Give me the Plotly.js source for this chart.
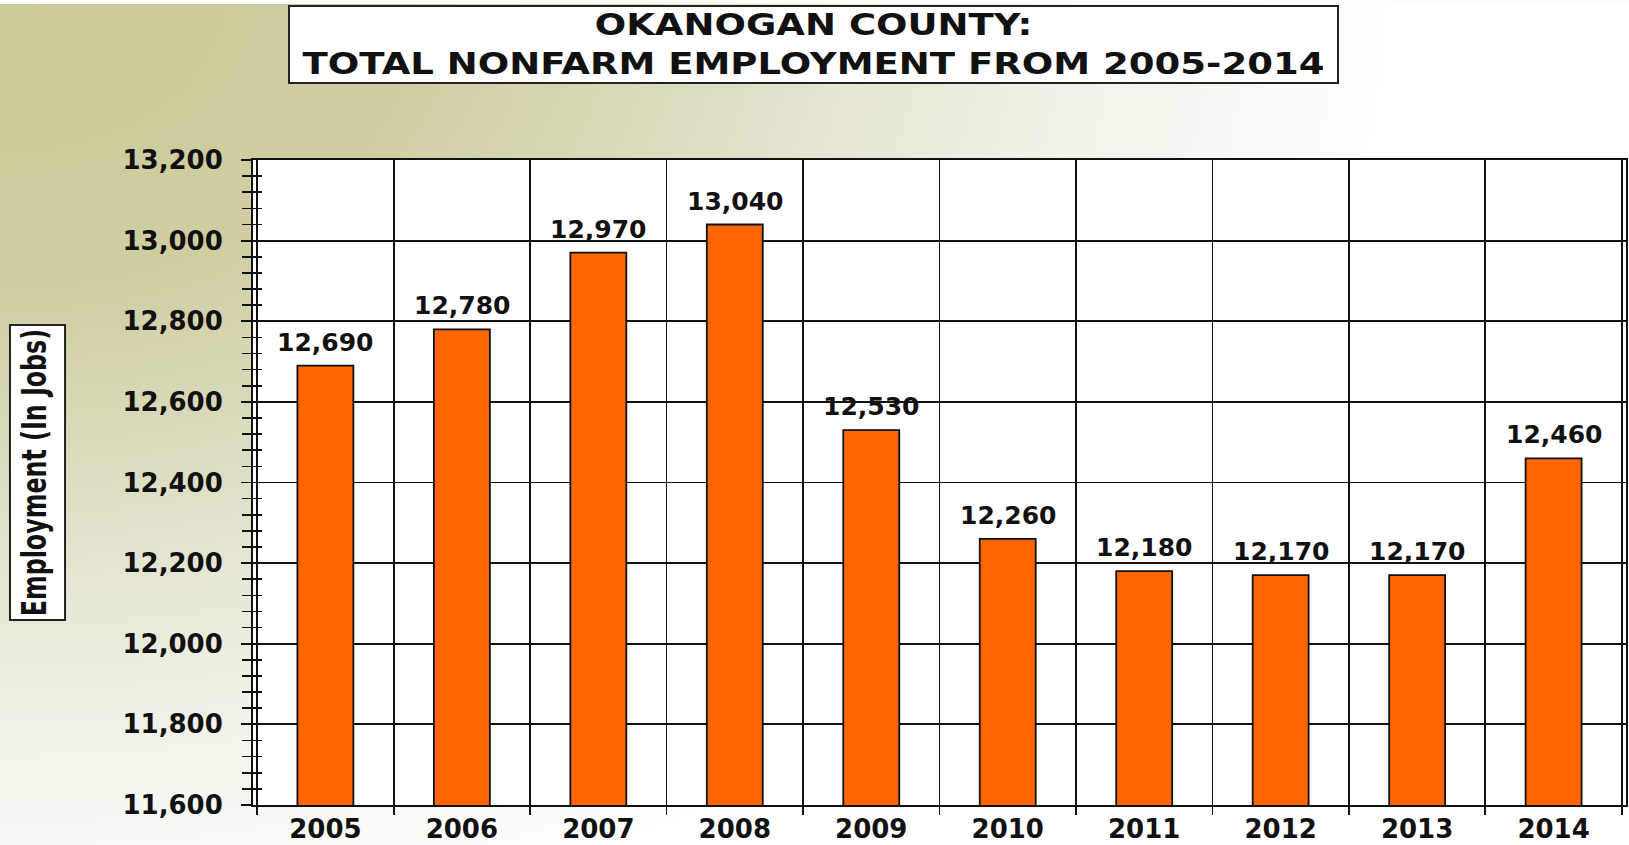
<!DOCTYPE html>
<html><head><meta charset="utf-8">
<script src="https://cdn.plot.ly/plotly-3.0.1.min.js"></script>
<style>
html,body{margin:0;padding:0;background:#fff;}
#chart{width:1629px;height:845px;
background:linear-gradient(#fdfdfb,#fdfdfb) top left/100% 4px no-repeat,
radial-gradient(ellipse 1400px 950px at 0 0,#cbca99 0%,#cfcea1 30%,#dcdcc0 50%,#eeeee2 72%,#f9f9f5 90%,#ffffff 100%);}
g.annotation[data-index="0"] text.annotation-text{transform-box:fill-box;transform-origin:center;transform:scaleX(1.235);}
g.annotation[data-index="1"] text.annotation-text{transform-box:fill-box;transform-origin:center;transform:scaleX(0.72);}
</style></head><body><div id="chart"></div>
<script>
const years = ['2005','2006','2007','2008','2009','2010','2011','2012','2013','2014'];
const jobs = [12690,12780,12970,13040,12530,12260,12180,12170,12170,12460];
const titleLines = ['OKANOGAN COUNTY:','TOTAL NONFARM EMPLOYMENT FROM 2005-2014'];
const yTitle = 'Employment (In Jobs)';
const yRange = [11600,13200];

const boldFont = 'DejaVu Sans, sans-serif';
const ink = '#111';

// value labels above bars (x given as category index)
const labelAnns = years.map((yr,i)=>({
  x: i, y: jobs[i], xref:'x', yref:'y', text: jobs[i].toLocaleString('en-US'),
  showarrow:false, yanchor:'bottom', xanchor:'center', yshift:7,
  font:{family:boldFont, size:25, weight:'bold', color:ink}
}));

const data = [
  {type:'bar', x:years, y:jobs, width:0.41,
   marker:{color:'#ff6600', line:{color:'#111', width:1.8}},
   hoverinfo:'x+y'},
  {type:'scatter', mode:'markers', x:years, y:jobs, yaxis:'y2',
   marker:{opacity:0}, hoverinfo:'skip', showlegend:false}
];

const layout = {
  width:1629, height:845,
  margin:{l:253, r:3, t:160, b:40},
  paper_bgcolor:'rgba(0,0,0,0)', plot_bgcolor:'#ffffff',
  showlegend:false, bargap:0.59,
  xaxis:{type:'category', tickson:'boundaries', ticks:'outside', ticklen:8, tickwidth:1.8, tickcolor:'#111',
    showgrid:true, gridcolor:'#111', gridwidth:1.8,
    showline:true, linecolor:'#111', linewidth:2, mirror:true,
    tickfont:{family:boldFont, size:26, weight:'bold', color:ink}, ticklabelstandoff:0},
  yaxis:{range:yRange, dtick:200, tick0:11600, tickformat:',d',
    ticks:'outside', ticklen:10, tickwidth:1.8, tickcolor:'#111',
    showgrid:true, gridcolor:'#111', gridwidth:1.8, zeroline:false,
    showline:true, linecolor:'#111', linewidth:2, mirror:true,
    minor:{dtick:40, tick0:11600, ticks:'outside', ticklen:9, tickwidth:1.6, tickcolor:'#111', showgrid:false},
    tickfont:{family:boldFont, size:26, weight:'bold', color:ink}, ticklabelstandoff:13},
  yaxis2:{overlaying:'y', side:'left', range:yRange, dtick:200, tick0:11600,
    showgrid:false, zeroline:false, showline:false, showticklabels:false,
    ticks:'inside', ticklen:9, tickwidth:1.6, tickcolor:'#111',
    minor:{dtick:40, tick0:11600, ticks:'inside', ticklen:9, tickwidth:1.6, tickcolor:'#111', showgrid:false}},
  shapes:[
    {type:'rect', xref:'paper', yref:'paper', x0:-0.177, x1:-0.1369, y0:0.2868, y1:0.7442,
     fillcolor:'#ffffff', line:{color:'#222', width:2}, layer:'above'}
  ],
  annotations:[
    {text:titleLines.join('<br>'), xref:'paper', yref:'paper', x:0.408, y:1.2403,
     xanchor:'center', yanchor:'top', showarrow:false, width:1047, height:75,
     bgcolor:'#ffffff', bordercolor:'#222', borderwidth:2, borderpad:0,
     font:{family:boldFont, size:30, weight:'bold', color:ink}},
    {text:yTitle, xref:'paper', yref:'paper', x:-0.159, y:0.5155, textangle:-90,
     xanchor:'center', yanchor:'middle', showarrow:false,
     font:{family:boldFont, size:33, weight:'bold', color:ink}}
  ].concat(labelAnns)
};

Plotly.newPlot('chart', data, layout, {displayModeBar:false, staticPlot:true});
</script></body></html>
